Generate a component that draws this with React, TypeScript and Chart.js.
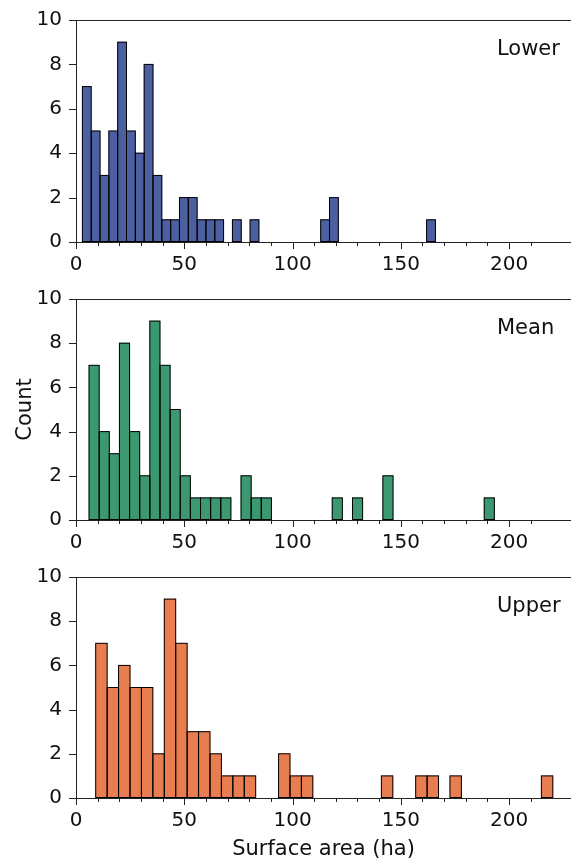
import React, { useEffect, useRef } from 'react';
import { Chart, registerables } from 'chart.js';

Chart.register(...registerables);

// Histogram counts (40 bins each)
const lowerCounts = [7, 5, 3, 5, 9, 5, 4, 8, 3, 1, 1, 2, 2, 1, 1, 1, 0, 1, 0, 1, 0, 0, 0, 0, 0, 0, 0, 1, 2, 0, 0, 0, 0, 0, 0, 0, 0, 0, 0, 1];
const meanCounts = [7, 4, 3, 8, 4, 2, 9, 7, 5, 2, 1, 1, 1, 1, 0, 2, 1, 1, 0, 0, 0, 0, 0, 0, 1, 0, 1, 0, 0, 2, 0, 0, 0, 0, 0, 0, 0, 0, 0, 1];
const upperCounts = [7, 5, 6, 5, 5, 2, 9, 7, 3, 3, 2, 1, 1, 1, 0, 0, 2, 1, 1, 0, 0, 0, 0, 0, 0, 1, 0, 0, 1, 1, 0, 1, 0, 0, 0, 0, 0, 0, 0, 1];

// Bin ranges [first edge, last edge] in ha
const lowerRange = [2.94, 166.0];
const meanRange = [6.02, 193.2];
const upperRange = [9.1, 220.2];

const panelLabels = ['Lower', 'Mean', 'Upper'];
const xTickMajor = [0, 50, 100, 150, 200];
const yTicks = [0, 2, 4, 6, 8, 10];
const xMax = 228.6;
const yMax = 10;
const xTitle = 'Surface area (ha)';
const yTitle = 'Count';

const FONT = '"DejaVu Sans", sans-serif';
const INK = '#111111';
const SPINE = '#222222';

function binData(counts: number[], range: number[]) {
  const w = (range[1] - range[0]) / counts.length;
  return counts.map((c, i) => ({ x: range[0] + (i + 0.5) * w, y: c === 0 ? null : c }));
}

function decorPlugin(label: string) {
  return {
    id: 'decor',
    afterDatasetsDraw(chart: any) {
      const ctx = chart.ctx;
      const meta = chart.getDatasetMeta(0);
      const data = chart.data.datasets[0].data;
      ctx.save();
      ctx.strokeStyle = '#000000';
      ctx.lineWidth = 1;
      meta.data.forEach((bar: any, i: number) => {
        if (data[i].y == null) return;
        const p = bar.getProps(['x', 'y', 'base', 'width'], true);
        ctx.strokeRect(p.x - p.width / 2, p.y, p.width, p.base - p.y);
      });
      ctx.restore();
    },
    afterDraw(chart: any) {
      const { ctx, chartArea: a, scales } = chart;
      ctx.save();
      ctx.strokeStyle = SPINE;
      ctx.lineWidth = 1;
      ctx.beginPath();
      const ty = Math.round(a.top) + 0.5;
      ctx.moveTo(a.left, ty);
      ctx.lineTo(a.right, ty);
      scales.x.ticks.forEach((t: any) => {
        if (Math.abs(t.value % 10) > 1e-6) return;
        const px = Math.round(scales.x.getPixelForValue(t.value)) + 0.5;
        const len = xTickMajor.includes(t.value) ? 7 : 4;
        ctx.moveTo(px, a.bottom);
        ctx.lineTo(px, a.bottom + len);
      });
      scales.y.ticks.forEach((t: any) => {
        const py = Math.round(scales.y.getPixelForValue(t.value)) + 0.5;
        ctx.moveTo(a.left - 7, py);
        ctx.lineTo(a.left, py);
      });
      ctx.stroke();
      ctx.fillStyle = INK;
      ctx.font = '21px ' + FONT;
      ctx.textBaseline = 'alphabetic';
      ctx.textAlign = 'left';
      ctx.fillText(label, 497, a.top + 35);
      ctx.restore();
    },
  };
}

type PanelProps = {
  counts: number[];
  range: number[];
  color: string;
  label: string;
  top: number;
  height: number;
  padTop: number;
  axisHeight: number;
  showYTitle: boolean;
  showXTitle: boolean;
};

function Panel(props: PanelProps) {
  const ref = useRef<HTMLCanvasElement | null>(null);
  useEffect(() => {
    if (!ref.current) return;
    const chart = new Chart(ref.current, {
      type: 'bar',
      data: {
        datasets: [
          {
            data: binData(props.counts, props.range) as any,
            backgroundColor: props.color,
            borderWidth: 0,
            barPercentage: 1,
            categoryPercentage: 1,
          },
        ],
      },
      options: {
        responsive: false,
        maintainAspectRatio: false,
        animation: false,
        layout: { padding: { top: props.padTop, left: 0, right: 0, bottom: 0 } },
        plugins: { legend: { display: false }, tooltip: { enabled: false } },
        scales: {
          x: {
            type: 'linear',
            offset: false,
            min: 0,
            max: xMax,
            afterFit: (s: any) => {
              s.height = props.axisHeight;
            },
            grid: { drawOnChartArea: false, drawTicks: true, tickLength: 11, color: 'rgba(0,0,0,0)' },
            border: { display: true, color: SPINE, width: 1 },
            ticks: {
              stepSize: 10,
              autoSkip: false,
              maxRotation: 0,
              padding: 0,
              color: INK,
              font: { family: FONT, size: 20 },
              callback: (v: any) => (xTickMajor.includes(v) ? String(v) : ''),
            },
            title: {
              display: props.showXTitle,
              text: xTitle,
              color: INK,
              font: { family: FONT, size: 21 },
              padding: { top: 0, bottom: 0 },
            },
          },
          y: {
            min: 0,
            max: yMax,
            afterFit: (s: any) => {
              s.width = 76;
            },
            grid: { drawOnChartArea: false, drawTicks: true, tickLength: 7, color: 'rgba(0,0,0,0)' },
            border: { display: true, color: SPINE, width: 1 },
            afterBuildTicks: (s: any) => {
              s.ticks = yTicks.map((v) => ({ value: v }));
            },
            ticks: {
              padding: 7,
              color: INK,
              font: { family: FONT, size: 20 },
            },
            title: {
              display: props.showYTitle,
              text: yTitle,
              color: INK,
              font: { family: FONT, size: 21 },
              padding: { top: 13, bottom: 0 },
            },
          },
        },
      },
      plugins: [decorPlugin(props.label)],
    } as any);
    return () => chart.destroy();
  }, []);
  return (
    <canvas
      ref={ref}
      width={571}
      height={props.height}
      style={{ position: 'absolute', left: 0, top: props.top, width: 571, height: props.height }}
    />
  );
}

export default function App() {
  return (
    <div style={{ position: 'absolute', left: 0, top: 0, width: 571, height: 862, background: '#ffffff', overflow: 'hidden' }}>
      <Panel counts={lowerCounts} range={lowerRange} color="#4C5FA0" label={panelLabels[0]} top={0} height={280} padTop={20} axisHeight={38} showYTitle={false} showXTitle={false} />
      <Panel counts={meanCounts} range={meanRange} color="#3C9870" label={panelLabels[1]} top={280} height={278} padTop={17} axisHeight={38} showYTitle={true} showXTitle={false} />
      <Panel counts={upperCounts} range={upperRange} color="#E87E50" label={panelLabels[2]} top={558} height={304} padTop={18} axisHeight={64} showYTitle={false} showXTitle={true} />
    </div>
  );
}
